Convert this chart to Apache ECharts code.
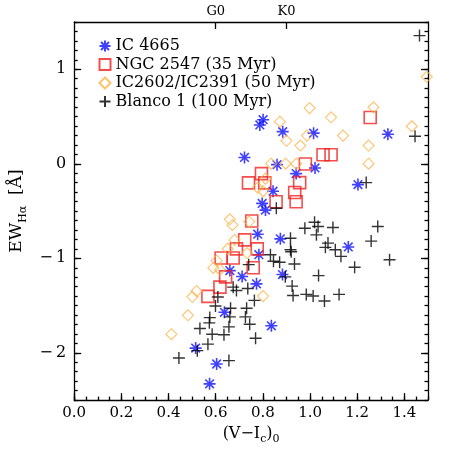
<!DOCTYPE html>
<html>
<head>
<meta charset="utf-8">
<script src="https://cdn.jsdelivr.net/npm/echarts@6/dist/echarts.min.js"></script>
<style>html,body{margin:0;padding:0;background:#fff}#c{width:450px;height:450px}</style>
</head>
<body>
<div id="c"></div>
<script>
// IC 4665 (asterisks)
const icX = [0.801,0.787,0.884,0.722,0.860,0.941,0.843,0.797,0.811,0.778,0.874,1.015,1.330,1.021,1.203,1.162,0.783,0.660,0.712,0.773,0.883,0.637,0.836,0.515,0.604,0.574];
const icY = [0.466,0.411,0.340,0.067,-0.009,-0.104,-0.290,-0.419,-0.490,-0.745,-0.794,0.324,0.313,-0.044,-0.220,-0.880,-0.962,-1.130,-1.193,-1.270,-1.172,-1.571,-1.714,-1.950,-2.118,-2.328];
// NGC 2547 (squares)
const ngcX = [0.794,0.739,0.808,0.856,0.935,0.941,0.956,0.980,1.055,1.089,1.255,0.753,0.723,0.688,0.776,0.623,0.674,0.642,0.618,0.567,0.759];
const ngcY = [-0.104,-0.202,-0.202,-0.401,-0.304,-0.401,-0.199,-0.002,0.096,0.096,0.490,-0.605,-0.805,-0.900,-0.900,-0.997,-0.997,-1.196,-1.305,-1.403,-1.100];
// IC2602/IC2391 (diamonds)
const icbX = [0.872,0.900,0.835,0.896,0.941,0.811,0.778,0.801,0.660,0.671,0.742,0.680,0.651,0.733,0.604,0.590,0.618,0.801,0.519,0.501,0.482,0.412,0.998,1.089,1.269,1.431,1.140,0.987,0.959,1.248,1.248,1.495];
const icbY = [0.445,0.243,0.001,0.001,0.001,-0.157,-0.254,-0.290,-0.587,-0.647,-0.611,-0.805,-0.900,-0.944,-1.025,-1.102,-1.120,-1.400,-1.347,-1.407,-1.603,-1.803,0.589,0.492,0.597,0.397,0.298,0.298,0.193,0.193,0.001,0.920];
// Blanco 1 (plus)
const blX = [1.464,1.445,1.238,0.857,0.917,0.978,1.019,1.034,1.097,1.287,1.027,1.259,1.076,1.065,0.917,0.920,1.107,1.131,1.337,0.832,0.845,0.871,0.934,1.189,0.895,1.036,0.924,0.928,0.984,1.013,1.061,1.123,0.740,0.674,0.688,0.736,0.764,0.609,0.599,0.663,0.731,0.660,0.726,0.575,0.573,0.744,0.533,0.656,0.585,0.635,0.769,0.567,0.522,0.444,0.656];
const blY = [1.356,0.292,-0.199,-0.471,-0.787,-0.682,-0.619,-0.664,-0.674,-0.664,-0.752,-0.818,-0.839,-0.884,-0.910,-0.930,-0.910,-0.979,-1.015,-0.962,-1.031,-1.041,-1.060,-1.095,-1.196,-1.183,-1.294,-1.393,-1.382,-1.399,-1.452,-1.382,-1.067,-1.305,-1.340,-1.319,-1.445,-1.410,-1.504,-1.529,-1.529,-1.620,-1.620,-1.627,-1.683,-1.697,-1.743,-1.725,-1.803,-1.809,-1.845,-1.908,-1.977,-2.055,-2.082];

const xMajor = [0,0.2,0.4,0.6,0.8,1.0,1.2,1.4];
const yMajor = [-2,-1,0,1];
const topTicks = [0.6,0.9];
const topLabels = ['G0','K0'];
const names = ['IC 4665','NGC 2547 (35 Myr)','IC2602/IC2391 (50 Myr)','Blanco 1 (100 Myr)'];

const FONT = 'DejaVu Serif';
const pair = (xs, ys) => xs.map((v, i) => [v, ys[i]]);
const STAR = 'path://M0,-1L0,1M-1,0L1,0M-0.72,-0.72L0.72,0.72M-0.72,0.72L0.72,-0.72';
const PLUS = 'path://M0,-1L0,1M-1,0L1,0';
const ax = {color:'#000', width:1.3};

const chart = echarts.init(document.getElementById('c'), null, {renderer:'canvas'});
chart.setOption({
  animation:false,
  backgroundColor:'#fff',
  grid:{left:73, right:22, top:22, bottom:47},
  legend:{
    orient:'vertical', left:97, top:38, padding:0, itemWidth:11, itemHeight:11, itemGap:2.5,
    textStyle:{fontFamily:FONT, fontSize:16, color:'#000', lineHeight:16},
    data:names
  },
  xAxis:[
    {type:'value', position:'bottom', min:0, max:1.5,
     axisLine:{onZero:false, lineStyle:ax}, splitLine:{show:false},
     axisTick:{inside:true, length:7, customValues:xMajor, lineStyle:ax},
     axisLabel:{customValues:xMajor, formatter:v=>v.toFixed(1), fontFamily:FONT, fontSize:15, color:'#000', margin:6},
     name:'{a|(V−I}{s|c}{a|)}{s|0}', nameLocation:'middle', nameGap:20,
     nameTextStyle:{rich:{a:{fontFamily:FONT,fontSize:16,color:'#000',lineHeight:22}, s:{fontFamily:FONT,fontSize:11,color:'#000',lineHeight:12,verticalAlign:'bottom'}}}
    },
    {type:'value', position:'bottom', min:0, max:1.5, interval:0.05,
     axisLine:{show:false, onZero:false}, splitLine:{show:false}, axisLabel:{show:false},
     axisTick:{inside:true, length:3.5, lineStyle:ax}},
    {type:'value', position:'top', min:0, max:1.5,
     axisLine:{onZero:false, lineStyle:ax}, splitLine:{show:false},
     axisTick:{inside:true, length:7, customValues:topTicks, lineStyle:ax},
     axisLabel:{customValues:topTicks, formatter:v=>topLabels[topTicks.indexOf(v)] || '', fontFamily:FONT, fontSize:13, color:'#000', margin:4}}
  ],
  yAxis:[
    {type:'value', position:'left', min:-2.5, max:1.5,
     axisLine:{onZero:false, lineStyle:ax}, splitLine:{show:false},
     axisTick:{inside:true, length:7, customValues:yMajor, lineStyle:ax},
     axisLabel:{customValues:yMajor, formatter:v=> v<0 ? '−\u2009'+Math.abs(v) : String(v), fontFamily:FONT, fontSize:16, color:'#000', margin:8},
     name:'{a|EW}{s|Hα}{a|  [Å]}', nameLocation:'middle', nameGap:42, nameRotate:90,
     nameTextStyle:{rich:{a:{fontFamily:FONT,fontSize:17,color:'#000',lineHeight:24}, s:{fontFamily:FONT,fontSize:11,color:'#000',lineHeight:12,verticalAlign:'bottom'}}}
    },
    {type:'value', position:'left', min:-2.5, max:1.5, interval:0.1,
     axisLine:{show:false, onZero:false}, splitLine:{show:false}, axisLabel:{show:false},
     axisTick:{inside:true, length:3.5, lineStyle:ax}},
    {type:'value', position:'right', min:-2.5, max:1.5,
     axisLine:{onZero:false, lineStyle:ax}, splitLine:{show:false}, axisLabel:{show:false},
     axisTick:{inside:true, length:7, customValues:yMajor, lineStyle:ax}},
    {type:'value', position:'right', min:-2.5, max:1.5, interval:0.1,
     axisLine:{show:false, onZero:false}, splitLine:{show:false}, axisLabel:{show:false},
     axisTick:{inside:true, length:3.5, lineStyle:ax}}
  ],
  series:[
    {name:names[0], type:'scatter', xAxisIndex:0, yAxisIndex:0, data:pair(icX, icY),
     symbol:STAR, symbolSize:12, itemStyle:{color:'none', borderColor:'#1010ff', borderWidth:1.6}},
    {name:names[1], type:'scatter', xAxisIndex:0, yAxisIndex:0, data:pair(ngcX, ngcY),
     symbol:'rect', symbolSize:12, itemStyle:{color:'none', borderColor:'#f02020', borderWidth:1.6}},
    {name:names[2], type:'scatter', xAxisIndex:0, yAxisIndex:0, data:pair(icbX, icbY),
     symbol:'diamond', symbolSize:11, itemStyle:{color:'none', borderColor:'#ffb347', borderWidth:1.1}},
    {name:names[3], type:'scatter', xAxisIndex:0, yAxisIndex:0, data:pair(blX, blY),
     symbol:PLUS, symbolSize:12, itemStyle:{color:'none', borderColor:'#000', borderWidth:1.4}}
  ]
});
</script>
</body>
</html>
